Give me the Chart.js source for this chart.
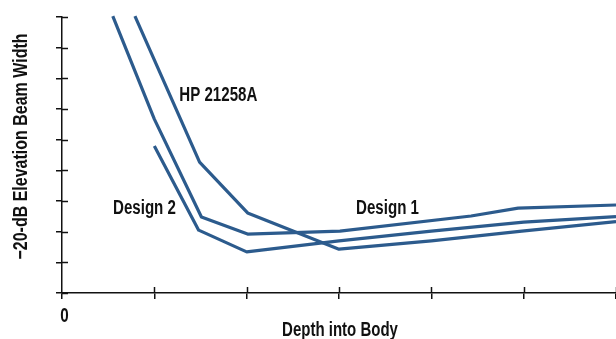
<!DOCTYPE html>
<html><head><meta charset="utf-8">
<script src="https://cdn.jsdelivr.net/npm/chart.js@4/dist/chart.umd.min.js"></script>
<style>html,body{margin:0;padding:0;background:#fff;} #wrap{width:616px;height:339px;}</style>
</head><body><div id="wrap"><canvas id="c" width="616" height="339"></canvas></div>
<script>
// ---- data ----
const depthDesign1 = [0.55, 1.00, 1.51, 2.01, 3.01, 4.43, 4.94, 6.00];
const widthDesign1 = [9.03, 5.67, 2.48, 1.92, 2.02, 2.51, 2.77, 2.87];
const depthDesign2 = [1.00, 1.48, 2.00, 3.00, 4.00, 5.00, 6.00];
const widthDesign2 = [4.79, 2.05, 1.34, 1.70, 2.02, 2.31, 2.49];
const depthHP = [0.79, 1.49, 2.01, 3.00, 4.00, 4.98, 6.00];
const widthHP = [9.03, 4.27, 2.61, 1.43, 1.70, 2.02, 2.33];
const seriesNames = ['Design 1', 'Design 2', 'HP 21258A'];
const xTickValues = [0, 1, 2, 3, 4, 5, 6];
const xTickLabels = ['0', '', '', '', '', '', ''];
const yTickValues = [0, 1, 2, 3, 4, 5, 6, 7, 8, 9];
const xTitle = 'Depth into Body';
const yTitle = '\u221220-dB Elevation Beam Width';

// ---- styling ----
const FONT = "'Liberation Sans', Arial, sans-serif";
const LINE = '#2c5b8d';
const INK = '#111';
const labelSpots = [
  { text: seriesNames[2], x: 1.693, y: 6.44 },
  { text: seriesNames[1], x: 0.893, y: 2.74 },
  { text: seriesNames[0], x: 3.525, y: 2.74 }
];

const pts = (xs, ys) => xs.map((v, i) => ({ x: v, y: ys[i] }));

// condensed bold text: real text, narrowed horizontally
function drawText(ctx, text, cx, cy, rot, sx, size) {
  ctx.save();
  ctx.translate(cx, cy);
  ctx.rotate(rot);
  ctx.scale(sx, 1);
  ctx.font = 'bold ' + size + 'px ' + FONT;
  ctx.fillStyle = INK;
  ctx.textAlign = 'center';
  ctx.textBaseline = 'middle';
  ctx.fillText(text, 0, 0);
  ctx.restore();
}

const axisDecor = {
  id: 'axisDecor',
  afterDraw(chart) {
    const { ctx, scales: { x, y }, chartArea } = chart;
    ctx.save();
    ctx.strokeStyle = INK; ctx.lineWidth = 1.5;
    yTickValues.forEach(v => {
      const py = Math.round(y.getPixelForValue(v)) + 0.5;
      ctx.beginPath(); ctx.moveTo(x.left, py); ctx.lineTo(x.left + 6, py); ctx.stroke();
    });
    xTickValues.slice(1).forEach(v => {
      const px = Math.round(x.getPixelForValue(v)) + 0.5;
      ctx.beginPath(); ctx.moveTo(px, y.bottom); ctx.lineTo(px, y.bottom - 6); ctx.stroke();
    });
    ctx.restore();
    // tick label(s)
    xTickValues.forEach((v, i) => {
      if (xTickLabels[i]) drawText(ctx, xTickLabels[i], x.getPixelForValue(v) + 2.5, chartArea.bottom + 23.5, 0, 0.76, 20);
    });
    // axis titles
    drawText(ctx, xTitle, (chartArea.left + chartArea.right) / 2 + 1, chartArea.bottom + 37, 0, 0.75, 20);
    drawText(ctx, yTitle, chartArea.left - 41, (chartArea.top + chartArea.bottom) / 2 - 8.5, -Math.PI / 2, 0.80, 20);
  }
};
const seriesLabels = {
  id: 'seriesLabels',
  afterDatasetsDraw(chart) {
    const { ctx, scales: { x, y } } = chart;
    labelSpots.forEach(l => drawText(ctx, l.text, x.getPixelForValue(l.x), y.getPixelForValue(l.y), 0, 0.755, 20));
  }
};

const ds = (label, data) => ({
  label, data, borderColor: LINE, borderWidth: 3.2, pointRadius: 0,
  tension: 0, fill: false, clip: false, borderJoinStyle: 'round', borderCapStyle: 'butt'
});

new Chart(document.getElementById('c'), {
  type: 'line',
  data: {
    datasets: [
      ds(seriesNames[0], pts(depthDesign1, widthDesign1)),
      ds(seriesNames[1], pts(depthDesign2, widthDesign2)),
      ds(seriesNames[2], pts(depthHP, widthHP))
    ]
  },
  options: {
    responsive: false, animation: false, devicePixelRatio: 1,
    layout: { padding: { top: 17, right: 0, left: 0, bottom: 0 } },
    plugins: { legend: { display: false }, tooltip: { enabled: false } },
    scales: {
      x: {
        type: 'linear', min: 0, max: 6,
        afterFit(s) { s.height = 46; s.paddingLeft = 0; s.paddingRight = 0; },
        afterBuildTicks(s) { s.ticks = xTickValues.map(v => ({ value: v })); },
        ticks: { display: false },
        grid: { drawOnChartArea: false, drawTicks: true, tickLength: 6, color: INK, lineWidth: 1.5 },
        border: { display: true, color: INK, width: 1.5 },
        title: { display: false, text: xTitle }
      },
      y: {
        type: 'linear', min: 0, max: 9,
        afterFit(s) { s.width = 62; s.paddingTop = 0; s.paddingBottom = 0; },
        afterBuildTicks(s) { s.ticks = yTickValues.map(v => ({ value: v })); },
        ticks: { display: false },
        grid: { drawOnChartArea: false, drawTicks: true, tickLength: 6, color: INK, lineWidth: 1.5 },
        border: { display: true, color: INK, width: 1.5 },
        title: { display: false, text: yTitle }
      }
    }
  },
  plugins: [axisDecor, seriesLabels]
});
</script>
</body></html>
